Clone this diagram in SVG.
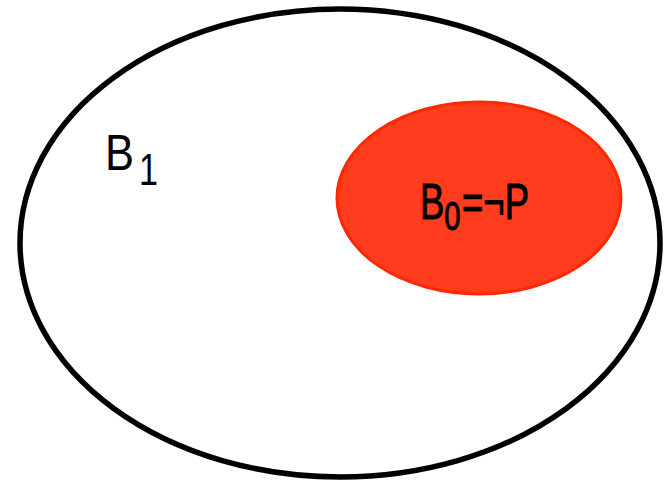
<svg xmlns="http://www.w3.org/2000/svg" width="667" height="483" viewBox="0 0 667 483">
<style>
.lbl{font-family:"Liberation Sans",Arial,sans-serif;fill:#000}
.red{stroke:#000;stroke-width:1}
</style>
<rect width="667" height="483" fill="#fff"/>
<g id="B1">
<ellipse cx="340" cy="243" rx="320" ry="234" fill="#fff" stroke="#000" stroke-width="5.5"/>
<text class="lbl" y="170" font-size="50"><tspan x="105" textLength="29" lengthAdjust="spacingAndGlyphs">B</tspan><tspan x="139" y="185" font-size="44" textLength="19" lengthAdjust="spacingAndGlyphs">1</tspan></text>
</g>
<g id="B0">
<ellipse cx="479" cy="198" rx="142" ry="96" fill="#FF3D1E" stroke="#FF2800" stroke-width="3"/>
<text class="lbl red" transform="translate(420,219) scale(0.73,1)" x="0" y="0" font-size="50">B<tspan dy="11" font-size="40">0</tspan><tspan dy="-11" dx="2">=¬P</tspan></text>
</g>
</svg>
